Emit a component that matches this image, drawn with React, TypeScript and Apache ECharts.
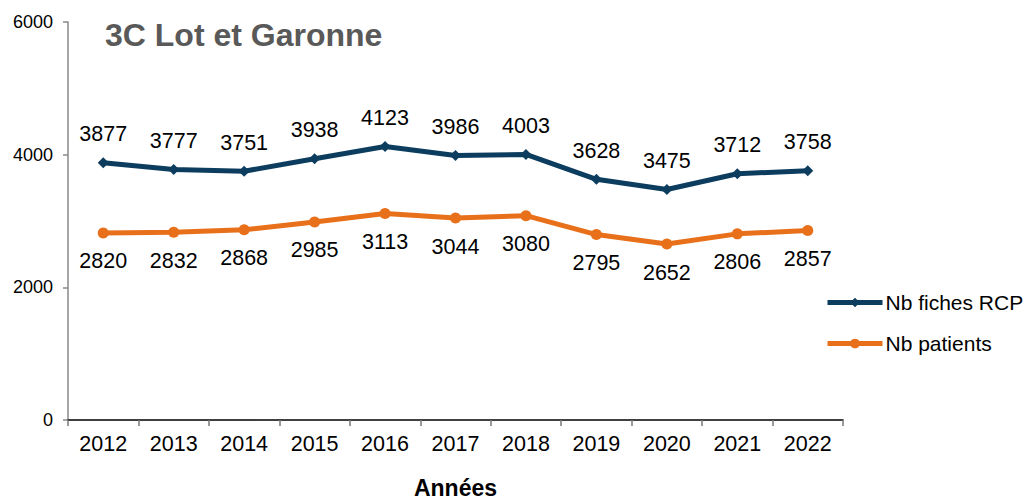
import React, { useEffect, useRef } from "react";
import * as echarts from "echarts";

const years = ["2012", "2013", "2014", "2015", "2016", "2017", "2018", "2019", "2020", "2021", "2022"];
const fichesRCP = [3877, 3777, 3751, 3938, 4123, 3986, 4003, 3628, 3475, 3712, 3758];
const patients = [2820, 2832, 2868, 2985, 3113, 3044, 3080, 2795, 2652, 2806, 2857];
const yTicks = { min: 0, max: 6000, interval: 2000 };

const FONT = "'Liberation Sans', Arial, sans-serif";

export default function App() {
  const ref = useRef<HTMLDivElement>(null);
  useEffect(() => {
    if (!ref.current) return;
    const chart = echarts.init(ref.current, null, { renderer: "svg" });
    chart.setOption({
      animation: false,
      backgroundColor: "#ffffff",
      textStyle: { fontFamily: FONT },
      title: {
        text: "3C Lot et Garonne",
        left: 100,
        top: 14,
        textStyle: { fontSize: 32, fontWeight: "bold", color: "#595959", fontFamily: FONT },
      },
      legend: {
        orient: "vertical",
        left: 820,
        top: 287,
        itemWidth: 55,
        itemHeight: 12,
        itemGap: 20,
        lineStyle: { width: 5 },
        textStyle: { fontSize: 21, color: "#000", fontFamily: FONT, padding: [0, 0, 0, -2] },
        data: ["Nb fiches RCP", "Nb patients"],
      },
      grid: { left: 68, right: 181, top: 22, bottom: 81, outerBoundsMode: "none", containLabel: false },
      xAxis: {
        type: "category",
        data: years,
        boundaryGap: true,
        name: "Années",
        nameLocation: "middle",
        nameGap: 56,
        nameTextStyle: {
          fontSize: 23,
          lineHeight: 24,
          verticalAlign: "top",
          fontWeight: "bold",
          color: "#000",
          fontFamily: FONT,
        },
        axisLine: { lineStyle: { color: "#000", width: 1.5 } },
        axisTick: { show: true, alignWithLabel: false, length: 6, lineStyle: { color: "#777", width: 1.5 } },
        axisLabel: { fontSize: 21.5, color: "#000", margin: 13, fontFamily: FONT },
      },
      yAxis: {
        type: "value",
        min: yTicks.min,
        max: yTicks.max,
        interval: yTicks.interval,
        splitLine: { show: false },
        axisLine: { show: true, lineStyle: { color: "#888", width: 1.5 } },
        axisTick: { show: true, length: 5, lineStyle: { color: "#888", width: 1.5 } },
        axisLabel: { fontSize: 18, color: "#000", margin: 15, fontFamily: FONT, formatter: (v: number) => String(v) },
      },
      series: [
        {
          name: "Nb fiches RCP",
          type: "line",
          data: fichesRCP,
          color: "#0d3d5e",
          lineStyle: { width: 5, color: "#0d3d5e" },
          symbol: "diamond",
          symbolSize: 11,
          itemStyle: { color: "#0d3d5e" },
          label: { show: true, position: "top", distance: 12, fontSize: 21.5, color: "#000", fontFamily: FONT },
        },
        {
          name: "Nb patients",
          type: "line",
          data: patients,
          color: "#e8701a",
          lineStyle: { width: 5, color: "#e8701a" },
          symbol: "circle",
          symbolSize: 11,
          itemStyle: { color: "#e8701a" },
          label: { show: true, position: "bottom", distance: 12, fontSize: 21.5, color: "#000", fontFamily: FONT },
        },
      ],
    });
    return () => chart.dispose();
  }, []);
  return <div ref={ref} style={{ width: 1024, height: 501, position: "absolute", left: 0, top: 0 }} />;
}
